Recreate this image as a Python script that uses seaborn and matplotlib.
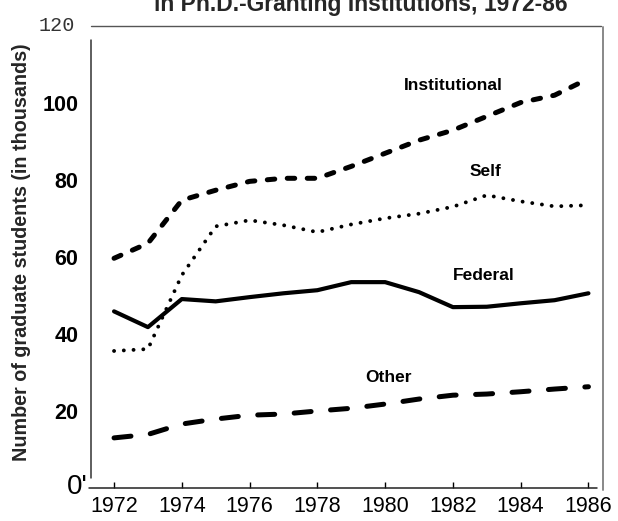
import matplotlib
matplotlib.use("Agg")
import matplotlib.pyplot as plt
import seaborn as sns

# Sources of support for full-time graduate students (thousands)
years = list(range(1972, 1987))
institutional = [59.6, 63.5, 74.7, 77.3, 79.6, 80.4, 80.4, 83.5, 86.9, 90.3, 92.9, 96.5, 100.1, 102.0, 106.3]
self_support = [35.5, 36.0, 55.2, 67.9, 69.5, 68.2, 66.4, 68.4, 70.0, 71.2, 73.0, 76.0, 74.4, 73.1, 73.4]
federal = [45.8, 41.7, 49.0, 48.4, 49.5, 50.5, 51.3, 53.4, 53.4, 50.8, 46.9, 47.0, 47.9, 48.7, 50.5]
other = [12.9, 13.8, 16.5, 17.8, 18.8, 19.1, 19.9, 20.6, 21.7, 23.0, 24.0, 24.3, 24.9, 25.6, 26.2]

xticks = [1972, 1974, 1976, 1978, 1980, 1982, 1984, 1986]
yticks = [20, 40, 60, 80, 100]

sns.set_theme(style="white")
plt.rcParams["font.family"] = ["Liberation Sans", "DejaVu Sans"]

W, H = 618, 521
fig = plt.figure(figsize=(W / 100, H / 100), dpi=100)
ax = fig.add_axes([91 / W, (H - 487.5) / H, (603 - 91) / W, (487.5 - 26) / H])

series = [
    ("Institutional", institutional, 3.6, (1.5, 2.5)),
    ("Self", self_support, 2.8, (0.01, 2.5)),
    ("Federal", federal, 3.0, None),
    ("Other", other, 3.6, (3.4, 3.9)),
]
for name, vals, lw, dash in series:
    sns.lineplot(x=years, y=vals, ax=ax, color="black", linewidth=lw)
    line = ax.lines[-1]
    if dash is not None:
        line.set_dashes(dash)
        line.set_dash_capstyle("round")
    else:
        line.set_solid_capstyle("round")
        line.set_solid_joinstyle("round")

ax.set_xlim(1971.32, 1986.43)
ax.set_ylim(0, 120)

for s in ax.spines.values():
    s.set_visible(False)

# hand-drawn frame pieces
ax.plot([0, 0.996], [1, 1], transform=ax.transAxes, color="#555555", lw=1.0, clip_on=False)
ax.plot([0, 0], [0.021, 0.970], transform=ax.transAxes, color="#333333", lw=1.1, clip_on=False)
ax.plot([1, 1], [-0.006, 0.998], transform=ax.transAxes, color="#888888", lw=1.4, clip_on=False)
ax.plot([-0.004, 0.988], [-0.001, -0.001], transform=ax.transAxes, color="#222222", lw=1.1, clip_on=False)

ax.set_xticks(xticks)
ax.set_xticklabels([str(y) for y in xticks])
ax.tick_params(axis="x", direction="in", length=4, width=1, color="black",
               bottom=True, pad=6, labelsize=15.5, labelcolor="black")
ax.set_yticks(yticks)
ax.set_yticklabels([str(v) for v in yticks])
ax.tick_params(axis="y", length=0, pad=9, labelsize=15.5, labelcolor="black")
for lab in ax.get_yticklabels():
    lab.set_fontweight("bold")

# odd end labels of the value axis
ax.text(-0.006, 0, "0'", transform=ax.get_yaxis_transform(), ha="right", va="center",
        fontsize=20, color="black")
ax.text(-0.031, 120, "120", transform=ax.get_yaxis_transform(), ha="right", va="center",
        fontsize=14.5, family="Liberation Mono", color="#333333")

ax.set_xlabel("")
ax.set_ylabel("")

# series labels
label_pos = {
    "Institutional": (1982.0, 104.5),
    "Self": (1982.97, 82.2),
    "Federal": (1982.9, 55.2),
    "Other": (1980.1, 28.7),
}
for name, (lx, ly) in label_pos.items():
    ax.text(lx, ly, name, ha="center", va="center", fontsize=12.5,
            fontweight="bold", color="black")

fig.text(22 / W, 1 - 252 / H, "Number of graduate students (in thousands)",
         rotation=90, ha="center", va="center", fontsize=14.2, fontweight="bold")

fig.text(361 / W, 1 - 11 / H, "in Ph.D.-Granting Institutions, 1972-86",
         ha="center", va="baseline", fontsize=16.5, fontweight="bold")

fig.savefig("out.png", dpi=100)
